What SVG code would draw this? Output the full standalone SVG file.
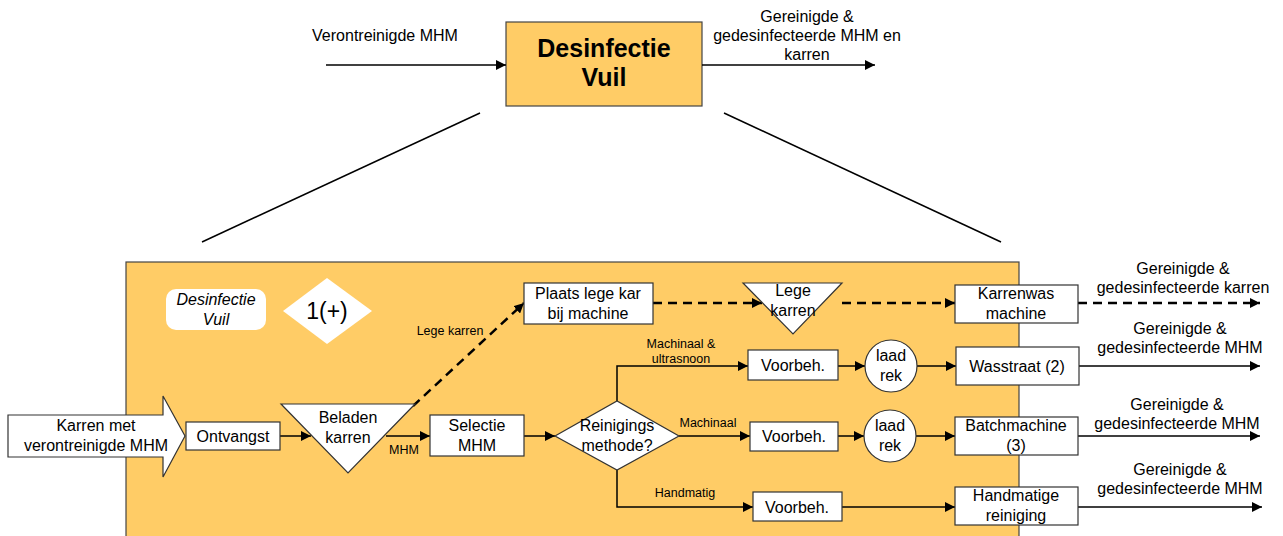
<svg xmlns="http://www.w3.org/2000/svg" width="1283" height="536" viewBox="0 0 1283 536">
  <defs>
    <marker id="ah" viewBox="0 0 10 10" refX="10" refY="5" markerWidth="10" markerHeight="10" markerUnits="userSpaceOnUse" orient="auto">
      <path d="M0,0 L10,5 L0,10 z" fill="#000"/>
    </marker>
  </defs>
  <style>
    text { font-family: "Liberation Sans", Arial, sans-serif; fill: #000; }
    .t { font-size: 16px; text-anchor: middle; }
    .s { font-size: 12.5px; text-anchor: middle; }
    .box { fill: #fff; stroke: #333; stroke-width: 1.2; }
    .ln { fill: none; stroke: #000; stroke-width: 1.5; }
    .dash { fill: none; stroke: #000; stroke-width: 2.5; stroke-dasharray: 9 6; }
    .orange { fill: #FFCC66; stroke: #444; stroke-width: 1.2; }
  </style>

  <rect width="1283" height="536" fill="#fff"/>

  <!-- overview process -->
  <g id="top-process">
    <rect class="orange" x="506" y="22" width="196" height="84"/>
    <text x="604" y="57" font-size="25" font-weight="bold" text-anchor="middle">Desinfectie</text>
    <text x="604" y="86" font-size="25" font-weight="bold" text-anchor="middle">Vuil</text>
  </g>
  <g id="top-labels">
    <text class="t" x="385" y="41">Verontreinigde MHM</text>
    <text class="t" x="807" y="22">Gereinigde &amp;</text>
    <text class="t" x="807" y="41">gedesinfecteerde MHM en</text>
    <text class="t" x="807" y="60">karren</text>
  </g>

  <!-- detail frame -->
  <g id="detail-frame">
    <rect class="orange" x="126" y="262" width="893" height="290"/>
  </g>

  <g id="title-tag">
    <rect x="166" y="289" width="100" height="41" rx="10" fill="#fff"/>
    <text x="216" y="305" font-size="16" font-style="italic" text-anchor="middle">Desinfectie</text>
    <text x="216" y="325" font-size="16" font-style="italic" text-anchor="middle">Vuil</text>
  </g>
  <g id="level-tag">
    <polygon points="283,311 327,278 372,311 327,344" fill="#fff"/>
    <text x="327" y="319" font-size="23" text-anchor="middle">1(+)</text>
  </g>

  <!-- connectors -->
  <g id="connectors">
    <line class="ln" x1="326" y1="65" x2="506" y2="65" marker-end="url(#ah)"/>
    <line class="ln" x1="702" y1="65" x2="875" y2="65" marker-end="url(#ah)"/>
    <line class="ln" x1="480" y1="113" x2="202" y2="242"/>
    <line class="ln" x1="724" y1="113" x2="1001" y2="242"/>

    <line class="ln" x1="280" y1="436" x2="311" y2="436" marker-end="url(#ah)"/>
    <line class="ln" x1="386" y1="436" x2="430" y2="436" marker-end="url(#ah)"/>
    <line class="ln" x1="524" y1="436" x2="555" y2="436" marker-end="url(#ah)"/>

    <line class="dash" x1="413" y1="406" x2="524" y2="303" marker-end="url(#ah)"/>
    <line class="dash" x1="653" y1="303" x2="762" y2="303" marker-end="url(#ah)"/>
    <line class="dash" x1="842" y1="303" x2="955" y2="303" marker-end="url(#ah)"/>
    <line class="dash" x1="1078" y1="303" x2="1260" y2="303" marker-end="url(#ah)"/>

    <polyline class="ln" points="617,401 617,366 748,366" marker-end="url(#ah)"/>
    <line class="ln" x1="838" y1="366" x2="865" y2="366" marker-end="url(#ah)"/>
    <line class="ln" x1="917" y1="366" x2="956" y2="366" marker-end="url(#ah)"/>
    <line class="ln" x1="1079" y1="366" x2="1260" y2="366" marker-end="url(#ah)"/>

    <line class="ln" x1="679" y1="436" x2="750" y2="436" marker-end="url(#ah)"/>
    <line class="ln" x1="838" y1="436" x2="864" y2="436" marker-end="url(#ah)"/>
    <line class="ln" x1="916" y1="436" x2="955" y2="436" marker-end="url(#ah)"/>
    <line class="ln" x1="1078" y1="436" x2="1260" y2="436" marker-end="url(#ah)"/>

    <polyline class="ln" points="617,470 617,507 753,507" marker-end="url(#ah)"/>
    <line class="ln" x1="842" y1="507" x2="955" y2="507" marker-end="url(#ah)"/>
    <line class="ln" x1="1078" y1="507" x2="1262" y2="507" marker-end="url(#ah)"/>
  </g>

  <!-- connector labels -->
  <g id="connector-labels">
    <text class="s" x="404" y="454">MHM</text>
    <text class="s" x="450" y="335">Lege karren</text>
    <text class="s" x="681" y="348">Machinaal &amp;</text>
    <text class="s" x="681" y="363">ultrasnoon</text>
    <text class="s" x="708" y="427">Machinaal</text>
    <text class="s" x="685" y="497">Handmatig</text>
    <text class="t" x="1183" y="274">Gereinigde &amp;</text>
    <text class="t" x="1183" y="293">gedesinfecteerde karren</text>
    <text class="t" x="1180" y="334">Gereinigde &amp;</text>
    <text class="t" x="1180" y="353">gedesinfecteerde MHM</text>
    <text class="t" x="1177" y="410">Gereinigde &amp;</text>
    <text class="t" x="1177" y="429">gedesinfecteerde MHM</text>
    <text class="t" x="1180" y="475">Gereinigde &amp;</text>
    <text class="t" x="1180" y="494">gedesinfecteerde MHM</text>
  </g>

  <!-- nodes -->
  <g id="input-arrow">
    <polygon points="8,415 163,415 163,396 185,436 163,477 163,457 8,457" fill="#fff" stroke="#333" stroke-width="1.2"/>
    <text class="t" x="96" y="431">Karren met</text>
    <text class="t" x="96" y="451">verontreinigde MHM</text>
  </g>
  <g id="ontvangst">
    <rect class="box" x="186" y="422" width="94" height="28"/>
    <text class="t" x="233" y="442">Ontvangst</text>
  </g>
  <g id="beladen-karren">
    <polygon class="box" points="281,404 415,404 348,473"/>
    <text class="t" x="348" y="423">Beladen</text>
    <text class="t" x="348" y="443">karren</text>
  </g>
  <g id="selectie-mhm">
    <rect class="box" x="430" y="415" width="94" height="41"/>
    <text class="t" x="477" y="431">Selectie</text>
    <text class="t" x="477" y="451">MHM</text>
  </g>
  <g id="reinigingsmethode">
    <polygon class="box" points="555,436 617,401 679,436 617,470"/>
    <text class="t" x="617" y="431">Reinigings</text>
    <text class="t" x="617" y="451">methode?</text>
  </g>
  <g id="plaats-lege-kar">
    <rect class="box" x="524" y="283" width="129" height="41"/>
    <text class="t" x="588" y="299">Plaats lege kar</text>
    <text class="t" x="588" y="319">bij machine</text>
  </g>
  <g id="lege-karren">
    <polygon class="box" points="743,283 842,283 793,334"/>
    <text class="t" x="793" y="296">Lege</text>
    <text class="t" x="793" y="316">karren</text>
  </g>
  <g id="karrenwas-machine">
    <rect class="box" x="955" y="285" width="123" height="38"/>
    <text class="t" x="1016" y="299">Karrenwas</text>
    <text class="t" x="1016" y="319">machine</text>
  </g>
  <g id="voorbeh-1">
    <rect class="box" x="748" y="350" width="90" height="30"/>
    <text class="t" x="793" y="371">Voorbeh.</text>
  </g>
  <g id="laad-rek-1">
    <circle class="box" cx="891" cy="366" r="26"/>
    <text class="t" x="891" y="361">laad</text>
    <text class="t" x="891" y="381">rek</text>
  </g>
  <g id="wasstraat">
    <rect class="box" x="956" y="347" width="123" height="38"/>
    <text class="t" x="1017" y="372">Wasstraat (2)</text>
  </g>
  <g id="voorbeh-2">
    <rect class="box" x="750" y="422" width="88" height="29"/>
    <text class="t" x="794" y="442">Voorbeh.</text>
  </g>
  <g id="laad-rek-2">
    <circle class="box" cx="890" cy="436" r="26"/>
    <text class="t" x="890" y="431">laad</text>
    <text class="t" x="890" y="451">rek</text>
  </g>
  <g id="batchmachine">
    <rect class="box" x="955" y="417" width="123" height="38"/>
    <text class="t" x="1016" y="431">Batchmachine</text>
    <text class="t" x="1016" y="451">(3)</text>
  </g>
  <g id="voorbeh-3">
    <rect class="box" x="753" y="492" width="89" height="29"/>
    <text class="t" x="797" y="513">Voorbeh.</text>
  </g>
  <g id="handmatige-reiniging">
    <rect class="box" x="955" y="487" width="123" height="38"/>
    <text class="t" x="1016" y="501">Handmatige</text>
    <text class="t" x="1016" y="521">reiniging</text>
  </g>
</svg>
